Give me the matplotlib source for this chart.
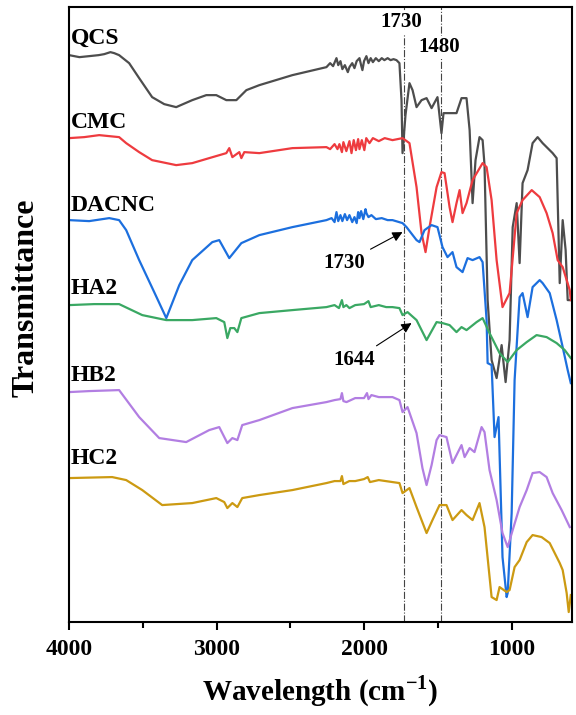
import matplotlib
matplotlib.use("Agg")
import matplotlib.pyplot as plt

plt.rcParams['font.family'] = ['Liberation Serif', 'DejaVu Serif']
plt.rcParams['font.weight'] = 'bold'
plt.rcParams['mathtext.fontset'] = 'custom'
plt.rcParams['mathtext.rm'] = 'Liberation Serif'
plt.rcParams['mathtext.bf'] = 'Liberation Serif:bold'

# wavenumber (cm-1) and stacked transmittance (arb. units)
qcs_w = [4000, 3930, 3864, 3800, 3762, 3720, 3694, 3661, 3593, 3525, 3437, 3355, 3274, 3165, 3070,
         3002, 2934, 2866, 2798, 2710, 2486, 2255, 2230, 2210, 2187, 2175, 2160, 2147, 2130, 2110,
         2099, 2080, 2065, 2050, 2031, 2020, 2011, 2000, 1984, 1970, 1955, 1940, 1920, 1900, 1880,
         1862, 1840, 1820, 1800, 1780, 1760, 1746, 1739, 1719, 1692, 1671, 1644, 1610, 1576, 1542,
         1502, 1475, 1461, 1373, 1339, 1305, 1284, 1264, 1244, 1217, 1196, 1183, 1162, 1135, 1101,
         1067, 1040, 1013, 992, 965, 945, 925, 891, 857, 823, 789, 721, 694, 673, 653,
         633, 619, 598]
qcs_t = [660, 658, 659, 660, 661, 663, 662, 660, 652, 637, 618, 611, 608, 615, 620,
         620, 615, 615, 625, 630, 640, 648, 652, 649, 657, 650, 654, 646, 650, 643,
         648, 652, 647, 654, 657, 650, 645, 654, 659, 652, 657, 653, 657, 654, 657,
         655, 657, 655, 656, 655, 652, 615, 562, 600, 632, 625, 608, 615, 617, 607,
         618, 582, 602, 602, 617, 617, 585, 512, 555, 578, 575, 550, 415, 355, 337,
         370, 333, 375, 488, 512, 452, 532, 545, 572, 578, 572, 562, 557, 432, 495,
         465, 415, 415]

cmc_w = [4000, 3898, 3796, 3661, 3613, 3525, 3437, 3274, 3165, 3050, 2934, 2914, 2893, 2846, 2832,
         2812, 2710, 2486, 2255, 2230, 2200, 2180, 2167, 2150, 2140, 2120, 2099, 2085, 2070, 2055,
         2040, 2031, 2015, 1998, 1985, 1963, 1940, 1900, 1860, 1807, 1739, 1692, 1644, 1610, 1583,
         1556, 1508, 1475, 1454, 1420, 1400, 1373, 1352, 1332, 1305, 1264, 1196, 1169, 1135, 1101,
         1061, 1013, 965, 925, 863, 809, 762, 721, 687, 653, 605, 598]
cmc_t = [577, 578, 580, 578, 572, 563, 555, 550, 552, 557, 562, 567, 558, 563, 557,
         563, 562, 567, 568, 566, 571, 566, 571, 563, 573, 564, 574, 562, 575, 565,
         576, 566, 575, 565, 577, 572, 577, 574, 577, 575, 577, 572, 528, 482, 463,
         488, 528, 543, 542, 508, 493, 512, 525, 502, 512, 535, 552, 548, 515, 455,
         408, 422, 502, 515, 525, 518, 502, 482, 455, 448, 425, 415]

dacnc_w = [4000, 3864, 3728, 3661, 3613, 3525, 3423, 3341, 3253, 3165, 3029, 2982, 2914, 2832, 2710,
           2486, 2255, 2220, 2200, 2187, 2175, 2160, 2147, 2130, 2115, 2099, 2080, 2065, 2050, 2040,
           2031, 2020, 2005, 1990, 1984, 1970, 1950, 1920, 1880, 1840, 1807, 1739, 1712, 1644, 1624,
           1590, 1542, 1502, 1468, 1434, 1400, 1373, 1332, 1298, 1264, 1217, 1196, 1169, 1162, 1135,
           1115, 1088, 1061, 1033, 1026, 999, 979, 945, 925, 891, 857, 809, 789, 741, 694,
           653, 619, 598]
dacnc_t = [495, 494, 497, 495, 485, 455, 423, 397, 430, 455, 473, 475, 457, 472, 480,
           488, 495, 497, 493, 503, 494, 500, 494, 501, 495, 500, 493, 498, 492, 503,
           497, 504, 496, 506, 502, 498, 500, 496, 497, 495, 495, 492, 488, 475, 473,
           485, 490, 488, 468, 458, 463, 448, 443, 457, 455, 458, 453, 395, 352, 350,
           278, 298, 158, 118, 122, 202, 335, 418, 422, 398, 428, 435, 432, 422, 395,
           368, 345, 332]

ha2_w = [4000, 3830, 3661, 3504, 3341, 3165, 3002, 2948, 2927, 2907, 2880, 2859, 2832, 2710, 2486,
         2255, 2200, 2170, 2150, 2140, 2120, 2099, 2060, 2000, 1970, 1955, 1900, 1850, 1807, 1760,
         1739, 1705, 1644, 1576, 1508, 1468, 1420, 1373, 1339, 1305, 1237, 1196, 1149, 1081, 1026,
         965, 897, 830, 762, 694, 639, 598]
ha2_t = [410, 411, 411, 400, 395, 395, 397, 393, 377, 387, 387, 383, 397, 402, 405,
         408, 410, 407, 415, 408, 410, 407, 410, 411, 414, 408, 410, 408, 408, 407,
         400, 403, 395, 375, 393, 392, 390, 383, 388, 385, 393, 397, 382, 362, 353,
         365, 373, 380, 378, 372, 365, 357]

hb2_w = [4000, 3864, 3661, 3525, 3389, 3206, 3050, 2982, 2927, 2893, 2859, 2826, 2710, 2486, 2255,
         2200, 2160, 2150, 2140, 2119, 2060, 2000, 1980, 1970, 1950, 1900, 1807, 1760, 1739, 1705,
         1644, 1604, 1576, 1542, 1508, 1488, 1441, 1400, 1339, 1318, 1284, 1251, 1203, 1183, 1149,
         1101, 1061, 1026, 992, 945, 897, 857, 809, 762, 721, 660, 605]
hb2_t = [323, 324, 325, 298, 277, 273, 285, 288, 272, 277, 275, 290, 295, 307, 313,
         315, 316, 322, 314, 313, 317, 317, 322, 316, 320, 318, 318, 315, 303, 308,
         282, 247, 230, 250, 275, 280, 278, 252, 270, 258, 267, 263, 288, 283, 245,
         215, 182, 168, 185, 208, 225, 242, 243, 238, 222, 205, 188]

hc2_w = [4000, 3708, 3613, 3504, 3369, 3165, 3002, 2948, 2927, 2893, 2859, 2826, 2710, 2486, 2255,
         2200, 2160, 2150, 2140, 2100, 2060, 2000, 1975, 1960, 1900, 1807, 1760, 1739, 1692, 1644,
         1576, 1536, 1488, 1441, 1400, 1339, 1305, 1264, 1217, 1183, 1135, 1101, 1081, 1033, 1013,
         979, 945, 897, 857, 796, 741, 673, 653, 626, 612, 598]
hc2_t = [237, 238, 235, 225, 210, 212, 217, 213, 207, 212, 208, 217, 220, 225, 232,
         234, 234, 239, 231, 234, 234, 236, 238, 233, 235, 233, 232, 222, 227, 208,
         182, 195, 210, 210, 195, 205, 200, 195, 212, 188, 118, 115, 128, 123, 125,
         148, 155, 173, 180, 178, 172, 152, 145, 122, 103, 120]

names = ['QCS', 'CMC', 'DACNC', 'HA2', 'HB2', 'HC2']
colors = ['#4d4d4d', '#ee3b3f', '#1c6fde', '#3aa863', '#b27ee2', '#cc9a12']
label_t = [677, 593, 510, 427, 340, 257]
series = [(qcs_w, qcs_t), (cmc_w, cmc_t), (dacnc_w, dacnc_t),
          (ha2_w, ha2_t), (hb2_w, hb2_t), (hc2_w, hc2_t)]

fig = plt.figure(figsize=(5.76, 7.15), dpi=100)
ax = fig.add_axes([0.120, 0.130, 0.873, 0.860])

for (w, t), c in zip(series, colors):
    ax.plot(w, t, color=c, lw=1.6)

for n, c, y in zip(names, colors, label_t):
    ax.text(3988, y, n, fontsize=17, fontweight='bold', ha='left', va='center')

# marker lines
for pk, tx, ty in [(1730, 1746, 693), (1480, 1490, 668)]:
    ax.axvline(pk, color='#444444', lw=0.8, ls='-.', zorder=0)
    ax.text(tx, ty, str(pk), fontsize=15, fontweight='bold', ha='center', va='center',
            bbox=dict(facecolor='white', edgecolor='none', pad=1))

ax.annotate('1730', xy=(1739, 483), xytext=(2133, 452), fontsize=15, fontweight='bold',
            ha='center', va='center',
            arrowprops=dict(arrowstyle='-|>', color='black', lw=0.8, shrinkA=2, shrinkB=0))
ax.annotate('1644', xy=(1678, 392), xytext=(2065, 355), fontsize=15, fontweight='bold',
            ha='center', va='center',
            arrowprops=dict(arrowstyle='-|>', color='black', lw=0.8, shrinkA=2, shrinkB=0))

ax.set_xlim(4000, 590)
ax.set_ylim(93, 708)
ax.set_xticks([4000, 3000, 2000, 1000])
ax.set_xticks([3500, 2500, 1500], minor=True)
ax.set_yticks([])
ax.tick_params(axis='x', which='major', length=6, width=1.5, labelsize=17, pad=6)
ax.tick_params(axis='x', which='minor', length=4, width=1.5)
for s in ax.spines.values():
    s.set_linewidth(1.5)
ax.set_xlabel('Wavelength (cm$^{\\mathbf{-1}}$)', fontsize=21, fontweight='bold', labelpad=10)
ax.set_ylabel('Transmittance', fontsize=23, fontweight='bold')
ax.yaxis.set_label_coords(-0.056, 0.528)

fig.savefig('out.png', dpi=100)
